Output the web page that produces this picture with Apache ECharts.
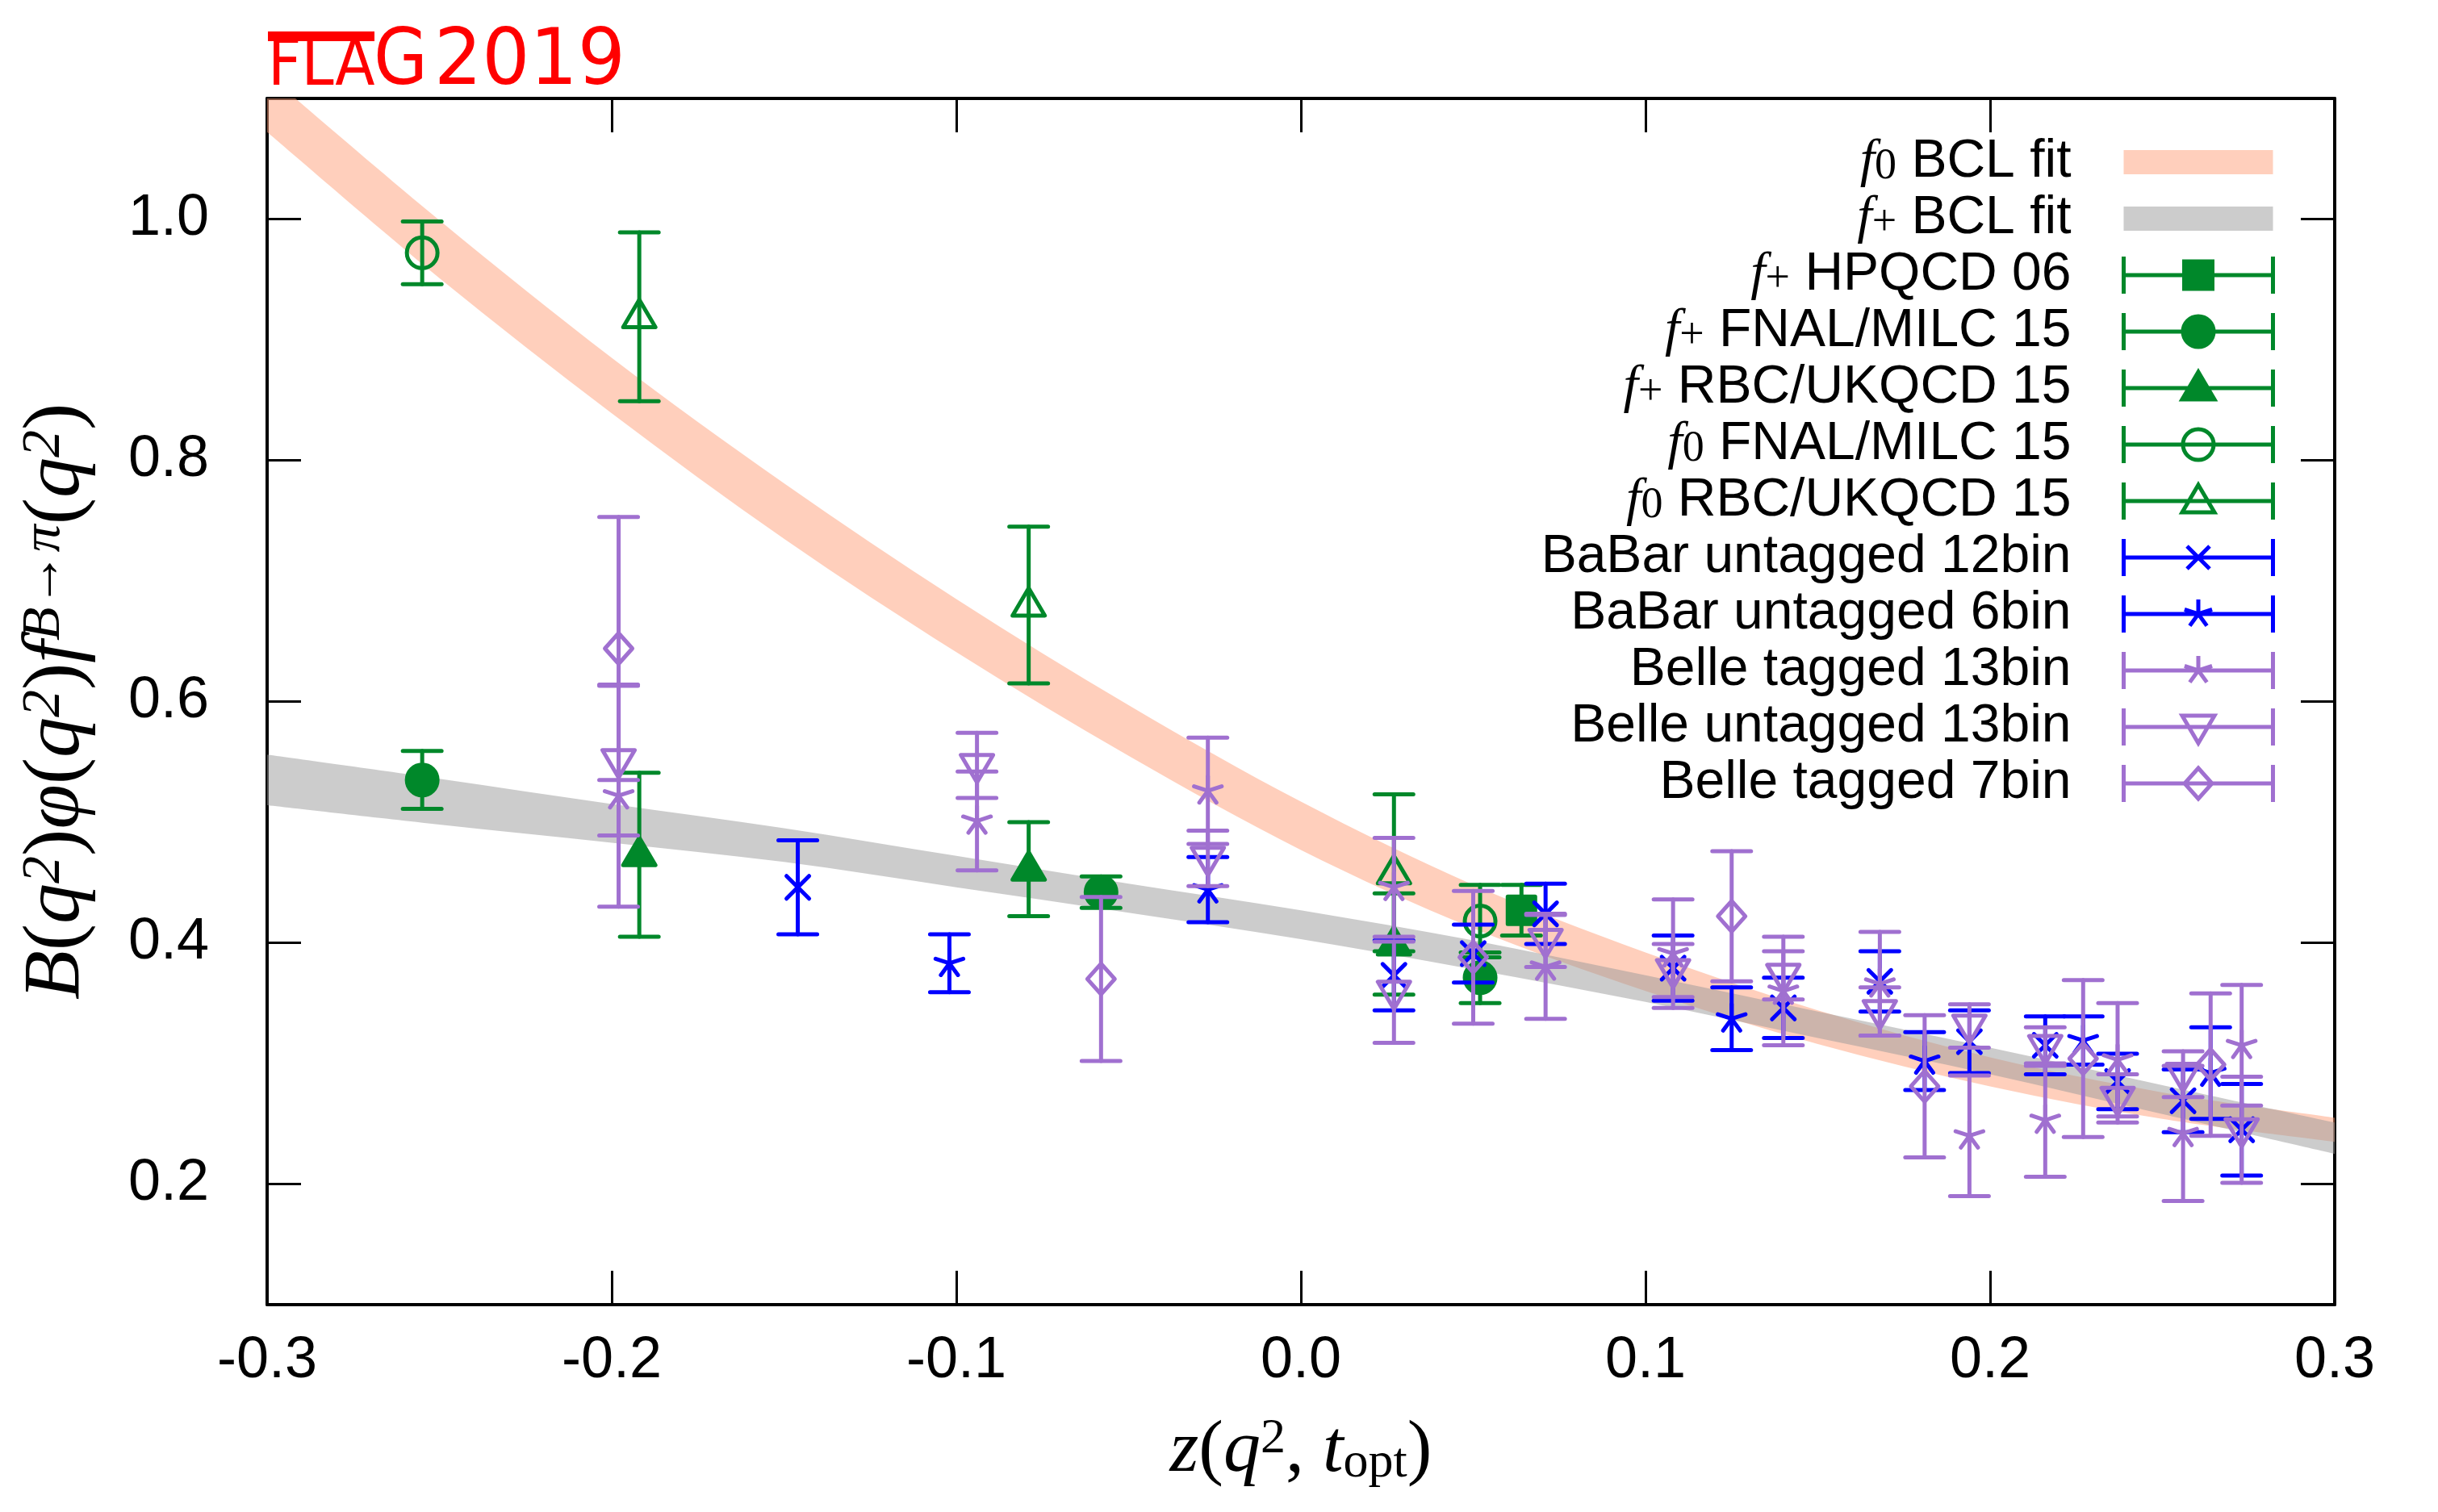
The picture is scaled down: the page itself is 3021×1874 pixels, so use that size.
<!DOCTYPE html>
<html>
<head>
<meta charset="utf-8">
<script src="https://cdn.jsdelivr.net/npm/echarts@6/dist/echarts.min.js"></script>
<style>
  html, body { margin: 0; padding: 0; background: #fff; }
  #chart { width: 3021px; height: 1874px; }
</style>
</head>
<body>
<div id="chart"></div>
<script>
// BCL fit bands (lower / upper edge)
const bandZ   = [-0.3, -0.25, -0.2, -0.15, -0.1, -0.05, 0, 0.05, 0.1, 0.15, 0.2, 0.25, 0.3];
const f0Upper = [1.120, 0.999, 0.885, 0.781, 0.685, 0.597, 0.517, 0.448, 0.392, 0.344, 0.305, 0.276, 0.255];
const f0Lower = [1.072, 0.951, 0.839, 0.735, 0.641, 0.555, 0.477, 0.412, 0.360, 0.316, 0.281, 0.254, 0.235];
const fpUpper = [0.556, 0.536, 0.515, 0.495, 0.472, 0.449, 0.427, 0.402, 0.373, 0.343, 0.313, 0.282, 0.251];
const fpLower = [0.514, 0.498, 0.483, 0.467, 0.446, 0.425, 0.403, 0.378, 0.351, 0.321, 0.291, 0.258, 0.225];

// lattice points: z, value, error
const hpqcdZ = [0.064];
const hpqcdF = [0.427];
const hpqcdErr = [0.021];

const fnalPlusZ = [-0.255, -0.058, 0.052];
const fnalPlusF = [0.535, 0.442, 0.371];
const fnalPlusErr = [0.024, 0.013, 0.021];

const rbcPlusZ = [-0.192, -0.079, 0.027];
const rbcPlusF = [0.473, 0.461, 0.399];
const rbcPlusErr = [0.068, 0.039, 0.042];

const fnalZeroZ = [-0.255, 0.052];
const fnalZeroF = [0.972, 0.418];
const fnalZeroErr = [0.026, 0.030];

const rbcZeroZ = [-0.192, -0.079, 0.027];
const rbcZeroF = [0.919, 0.680, 0.458];
const rbcZeroErr = [0.070, 0.065, 0.065];

// experiment
const babar12Z = [-0.146, 0.027, 0.050, 0.071, 0.108, 0.140, 0.168, 0.194, 0.216, 0.237, 0.256, 0.273];
const babar12F = [0.446, 0.373, 0.391, 0.424, 0.379, 0.346, 0.368, 0.318, 0.315, 0.285, 0.269, 0.245];
const babar12Err = [0.039, 0.029, 0.024, 0.025, 0.027, 0.025, 0.025, 0.026, 0.024, 0.023, 0.026, 0.038];

const babar6Z = [-0.102, -0.027, 0.125, 0.181, 0.227, 0.264];
const babar6F = [0.383, 0.444, 0.337, 0.302, 0.319, 0.292];
const babar6Err = [0.024, 0.027, 0.026, 0.024, 0.020, 0.038];

const belle13Z = [-0.198, -0.094, -0.027, 0.027, 0.071, 0.108, 0.140, 0.168, 0.194, 0.216, 0.237, 0.256, 0.273];
const belle13F = [0.522, 0.501, 0.526, 0.446, 0.380, 0.391, 0.360, 0.366, 0.240, 0.253, 0.303, 0.242, 0.315];
const belle13Err = [0.092, 0.041, 0.044, 0.041, 0.043, 0.045, 0.045, 0.043, 0.050, 0.047, 0.047, 0.056, 0.050];

const belleUntZ = [-0.198, -0.094, -0.027, 0.027, 0.071, 0.108, 0.140, 0.168, 0.194, 0.216, 0.237, 0.256, 0.273];
const belleUntF = [0.551, 0.547, 0.470, 0.359, 0.402, 0.377, 0.373, 0.343, 0.331, 0.314, 0.271, 0.291, 0.245];
const belleUntErr = [0.062, 0.027, 0.023, 0.042, 0.022, 0.022, 0.020, 0.020, 0.018, 0.016, 0.020, 0.019, 0.044];

const belle7Z = [-0.198, -0.058, 0.050, 0.125, 0.181, 0.227, 0.264];
const belle7F = [0.644, 0.370, 0.388, 0.422, 0.281, 0.304, 0.299];
const belle7Err = [0.109, 0.068, 0.055, 0.054, 0.059, 0.065, 0.059];

const yTicks = [0.2, 0.4, 0.6, 0.8, 1.0];

const GREEN = '#00882a', BLUE = '#0000ff', PURPLE = '#a070d0';
const LW = 5;

// marker drawn at pixel position (x, y)
function marker(kind, x, y, color) {
  const open = {stroke: color, lineWidth: LW, lineJoin: 'round', lineCap: 'round', fill: 'none'};
  const solid = {stroke: color, lineWidth: LW, lineJoin: 'round', fill: color};
  const seg = (a, b, c, d) => ({type: 'line', shape: {x1: a, y1: b, x2: c, y2: d}, style: open});
  switch (kind) {
    case 'square': return {type: 'rect', shape: {x: x - 17, y: y - 17, width: 34, height: 34}, style: solid};
    case 'dot': return {type: 'circle', shape: {cx: x, cy: y, r: 19}, style: solid};
    case 'ring': return {type: 'circle', shape: {cx: x, cy: y, r: 19}, style: open};
    case 'tri': return {type: 'polygon', shape: {points: [[x, y - 21], [x + 20, y + 13], [x - 20, y + 13]]}, style: solid};
    case 'otri': return {type: 'polygon', shape: {points: [[x, y - 21], [x + 20, y + 13], [x - 20, y + 13]]}, style: open};
    case 'otridown': return {type: 'polygon', shape: {points: [[x - 20, y - 13], [x + 20, y - 13], [x, y + 21]]}, style: open};
    case 'odiamond': return {type: 'polygon', shape: {points: [[x, y - 19], [x + 17, y], [x, y + 19], [x - 17, y]]}, style: open};
    case 'cross': return {type: 'group', children: [seg(x - 14, y - 14, x + 14, y + 14), seg(x + 14, y - 14, x - 14, y + 14)]};
    case 'star': {
      const r = 18;
      return {type: 'group', children: [90, 18, 162, 234, 306].map(a => {
        const t = a * Math.PI / 180;
        return seg(x, y, x + r * Math.cos(t), y - r * Math.sin(t));
      })};
    }
  }
}

function points(name, zs, fs, es, color, kind) {
  return {
    name: name, type: 'custom', encode: {x: 0, y: 1},
    itemStyle: {color: color},
    data: zs.map((z, i) => [z, fs[i], es[i]]),
    renderItem: function (params, api) {
      const z = api.value(0), f = api.value(1), e = api.value(2);
      const c = api.coord([z, f]);
      const hi = api.coord([z, f + e])[1];
      const lo = api.coord([z, f - e])[1];
      const st = {stroke: color, lineWidth: LW, lineCap: 'round', fill: 'none'};
      return {type: 'group', children: [
        {type: 'line', shape: {x1: c[0], y1: hi, x2: c[0], y2: lo}, style: st},
        {type: 'line', shape: {x1: c[0] - 24, y1: hi, x2: c[0] + 24, y2: hi}, style: st},
        {type: 'line', shape: {x1: c[0] - 24, y1: lo, x2: c[0] + 24, y2: lo}, style: st},
        marker(kind, c[0], c[1], color)
      ]};
    }
  };
}

// smooth curve through pixel points (Catmull-Rom as cubic Bezier)
function curveThrough(pts) {
  let d = '';
  for (let i = 0; i < pts.length - 1; i++) {
    const p0 = pts[Math.max(i - 1, 0)], p1 = pts[i], p2 = pts[i + 1], p3 = pts[Math.min(i + 2, pts.length - 1)];
    const c1 = [p1[0] + (p2[0] - p0[0]) / 6, p1[1] + (p2[1] - p0[1]) / 6];
    const c2 = [p2[0] - (p3[0] - p1[0]) / 6, p2[1] - (p3[1] - p1[1]) / 6];
    d += ' C' + c1.join(' ') + ' ' + c2.join(' ') + ' ' + p2.join(' ');
  }
  return d;
}

function band(name, lower, upper, color) {
  return {
    name: name, type: 'custom', clip: true, encode: {x: 0, y: 1},
    itemStyle: {color: color},
    data: bandZ.map((z, i) => [z, lower[i], upper[i]]),
    renderItem: function (params, api) {
      if (params.dataIndex !== 0) return;
      const up = bandZ.map((z, i) => api.coord([z, upper[i]]));
      const lo = bandZ.map((z, i) => api.coord([z, lower[i]])).reverse();
      const d = 'M' + up[0].join(' ') + curveThrough(up) + ' L' + lo[0].join(' ') + curveThrough(lo) + ' Z';
      return {type: 'path', shape: {pathData: d}, style: {fill: color, stroke: 'none'}};
    }
  };
}

// legend icons, 185 x 46 box
const barIcon = 'M0 0 L0 46 M0 23 L185 23 M185 0 L185 46 ';
const iconPaths = {
  square: 'M75 6 L110 6 L110 40 L75 40 Z',
  dot: 'M73.5 23 A19 19 0 1 1 111.5 23 A19 19 0 1 1 73.5 23 Z',
  ring: 'M73.5 23 A19 19 0 1 1 111.5 23 A19 19 0 1 1 73.5 23 Z',
  tri: 'M92.5 3 L112.5 37 L72.5 37 Z',
  otri: 'M92.5 3 L112.5 37 L72.5 37 Z',
  otridown: 'M72.5 9 L112.5 9 L92.5 43 Z',
  odiamond: 'M92.5 4 L109.5 23 L92.5 42 L75.5 23 Z',
  cross: 'M78.5 9 L106.5 37 M106.5 9 L78.5 37',
  star: 'M92.5 23 L92.5 5 M92.5 23 L109.6 17.4 M92.5 23 L75.4 17.4 M92.5 23 L81.9 37.6 M92.5 23 L103.1 37.6'
};
function legendItem(name, color, kind) {
  const filled = kind === 'square' || kind === 'dot' || kind === 'tri';
  return {
    name: name, icon: 'path://' + barIcon + iconPaths[kind],
    itemStyle: {color: filled ? color : 'rgba(0,0,0,0)', borderColor: color, borderWidth: LW}
  };
}
function legendBand(name, color) {
  return {name: name, icon: 'path://M0 8 L185 8 L185 38 L0 38 Z', itemStyle: {color: color, borderWidth: 0}};
}

const F0 = 'rgba(255,160,122,0.5)', FP = 'rgba(153,153,153,0.5)';
const sets = [
  ['f+ HPQCD 06', hpqcdZ, hpqcdF, hpqcdErr, GREEN, 'square'],
  ['f+ FNAL/MILC 15', fnalPlusZ, fnalPlusF, fnalPlusErr, GREEN, 'dot'],
  ['f+ RBC/UKQCD 15', rbcPlusZ, rbcPlusF, rbcPlusErr, GREEN, 'tri'],
  ['f0 FNAL/MILC 15', fnalZeroZ, fnalZeroF, fnalZeroErr, GREEN, 'ring'],
  ['f0 RBC/UKQCD 15', rbcZeroZ, rbcZeroF, rbcZeroErr, GREEN, 'otri'],
  ['BaBar untagged 12bin', babar12Z, babar12F, babar12Err, BLUE, 'cross'],
  ['BaBar untagged 6bin', babar6Z, babar6F, babar6Err, BLUE, 'star'],
  ['Belle tagged 13bin', belle13Z, belle13F, belle13Err, PURPLE, 'star'],
  ['Belle untagged 13bin', belleUntZ, belleUntF, belleUntErr, PURPLE, 'otridown'],
  ['Belle tagged 7bin', belle7Z, belle7F, belle7Err, PURPLE, 'odiamond']
];

const series = [band('f0 BCL fit', f0Lower, f0Upper, F0), band('f+ BCL fit', fpLower, fpUpper, FP)]
  .concat(sets.map(s => points(s[0], s[1], s[2], s[3], s[4], s[5])));

const legendData = [legendBand('f0 BCL fit', F0), legendBand('f+ BCL fit', FP)]
  .concat(sets.map(s => legendItem(s[0], s[4], s[5])));

const serif = 'Liberation Serif, DejaVu Serif, serif';
const sans = 'Liberation Sans, Arial, sans-serif';

const frame = {show: true, onZero: false, lineStyle: {color: '#000', width: 4}};
const tick = {show: true, inside: true, length: 42, lineStyle: {color: '#000', width: 3}};

const chart = echarts.init(document.getElementById('chart'));
chart.setOption({
  animation: false,
  backgroundColor: '#fff',
  grid: {left: 331, right: 128, top: 122, bottom: 257, containLabel: false, outerBoundsMode: 'none'},
  graphic: [
    {type: 'rect', shape: {x: 332, y: 39, width: 132, height: 12}, style: {fill: '#ff0000'}},
    {type: 'text', x: 332, y: 84, scaleX: 0.9, style: {text: 'FLA', fontFamily: 'DejaVu Sans', fontSize: 80, fill: '#ff0000', align: 'left', verticalAlign: 'middle'}},
    {type: 'text', x: 463, y: 79, scaleX: 0.9, style: {text: 'G', fontFamily: 'DejaVu Sans', fontSize: 96, fill: '#ff0000', align: 'left', verticalAlign: 'middle'}},
    {type: 'text', x: 538, y: 79, scaleX: 0.97, style: {text: '2019', fontFamily: 'DejaVu Sans', fontSize: 96, fill: '#ff0000', align: 'left', verticalAlign: 'middle'}}
  ],
  legend: {
    orient: 'vertical', right: 202, top: 168, align: 'right', padding: 0,
    itemWidth: 185, itemHeight: 46, itemGap: 4, symbolKeepAspect: true,
    selectedMode: false,
    textStyle: {
      fontFamily: sans, fontSize: 66, color: '#000', padding: [0, 60, 0, 0],
      rich: {
        f: {fontFamily: serif, fontStyle: 'italic', fontSize: 66},
        s: {fontFamily: serif, fontSize: 54, verticalAlign: 'bottom'},
        t: {fontFamily: sans, fontSize: 66}
      }
    },
    formatter: function (name) {
      if (name.indexOf('f0 ') === 0 || name.indexOf('f+ ') === 0) {
        return '{f|f}{s|' + name.charAt(1) + '}{t| ' + name.slice(3) + '}';
      }
      return name;
    },
    data: legendData
  },
  xAxis: [{
    type: 'value', position: 'bottom', min: -0.3, max: 0.3, interval: 0.1,
    axisLine: frame, axisTick: tick, splitLine: {show: false},
    axisLabel: {
      margin: 34, fontFamily: sans, fontSize: 72, color: '#000',
      formatter: v => (Math.abs(v) < 1e-9 ? '0.0' : v.toFixed(1))
    },
    name: '{i|z}{n|(}{i|q}{p|2}{n|, }{i|t}{b|opt}{n|)}',
    nameLocation: 'middle', nameGap: 136,
    nameTextStyle: {
      rich: {
        i: {fontFamily: serif, fontStyle: 'italic', fontSize: 92},
        n: {fontFamily: serif, fontSize: 92},
        p: {fontFamily: serif, fontSize: 62, verticalAlign: 'top'},
        b: {fontFamily: serif, fontSize: 62, verticalAlign: 'bottom'}
      }
    }
  }, {
    type: 'value', position: 'top', min: -0.3, max: 0.3, interval: 0.1,
    axisLine: frame, axisTick: tick, axisLabel: {show: false}, splitLine: {show: false}
  }],
  yAxis: [{
    type: 'value', position: 'left', min: 0.1, max: 1.1,
    axisLine: frame, axisTick: Object.assign({customValues: yTicks}, tick), splitLine: {show: false},
    axisLabel: {
      customValues: yTicks, margin: 72, fontFamily: sans, fontSize: 72, color: '#000',
      formatter: v => v.toFixed(1)
    },
    name: '{i|B}{n|(}{i|q}{p|2}{n|)}{i|φ}{n|(}{i|q}{p|2}{n|)}{i|f}{p|B→π}{n|(}{i|q}{p|2}{n|)}',
    nameLocation: 'middle', nameRotate: 90, nameGap: 210,
    nameTextStyle: {
      rich: {
        i: {fontFamily: serif, fontStyle: 'italic', fontSize: 100},
        n: {fontFamily: serif, fontSize: 100},
        p: {fontFamily: serif, fontStyle: 'italic', fontSize: 68, verticalAlign: 'top'}
      }
    }
  }, {
    type: 'value', position: 'right', min: 0.1, max: 1.1,
    axisLine: frame, axisTick: Object.assign({customValues: yTicks}, tick),
    axisLabel: {show: false}, splitLine: {show: false}
  }],
  series: series
});
</script>
</body>
</html>
